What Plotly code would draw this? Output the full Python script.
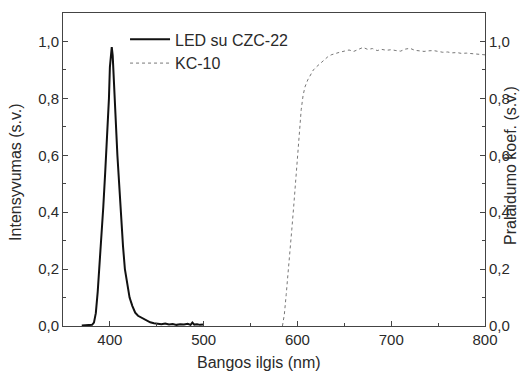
import plotly.graph_objects as go

# LED su CZC-22 emission spectrum
led_wl = [370, 375, 379, 381, 383, 385, 387, 389, 391, 393, 395, 397, 399, 400, 401, 402,
          403, 404, 405, 406, 407, 408, 410, 412, 414, 416, 418, 421, 424, 427, 430, 434,
          438, 443, 447, 451, 455, 459, 463, 467, 471, 475, 479, 483, 486, 488, 490, 493,
          496, 500]
led_val = [0.002, 0.003, 0.002, 0.004, 0.012, 0.045, 0.12, 0.21, 0.31, 0.42, 0.54, 0.66, 0.8,
           0.91, 0.96, 0.98, 0.95, 0.89, 0.81, 0.74, 0.67, 0.6, 0.48, 0.37, 0.28, 0.2, 0.155,
           0.1, 0.07, 0.047, 0.036, 0.028, 0.02, 0.013, 0.01, 0.008, 0.006, 0.009, 0.005,
           0.007, 0.004, 0.006, 0.005, 0.008, 0.004, 0.012, 0.005, 0.006, 0.004, 0.005]

# KC-10 transmission
kc_wl = [584, 586, 588, 590, 592, 594, 596, 598, 600, 602, 604, 606, 608, 611, 614, 617,
         620, 624, 628, 632, 636, 640, 645, 650, 655, 660, 665, 670, 675, 680, 685, 690,
         695, 700, 705, 710, 715, 720, 725, 730, 735, 740, 745, 750, 755, 760, 765, 770,
         775, 780, 785, 790, 795, 800]
kc_val = [0.0, 0.04, 0.11, 0.18, 0.26, 0.34, 0.42, 0.51, 0.6, 0.69, 0.76, 0.81, 0.84, 0.865,
          0.885, 0.9, 0.91, 0.922, 0.935, 0.945, 0.953, 0.958, 0.962, 0.966, 0.97, 0.965,
          0.972, 0.979, 0.972, 0.975, 0.968, 0.972, 0.969, 0.971, 0.968, 0.966, 0.973, 0.976,
          0.969, 0.967, 0.965, 0.967, 0.968, 0.965, 0.962, 0.963, 0.96, 0.961, 0.958, 0.959,
          0.957, 0.956, 0.955, 0.953]

x_ticks = [400, 500, 600, 700, 800]
y_ticks = [0.0, 0.2, 0.4, 0.6, 0.8, 1.0]
y_labels = ["0,0", "0,2", "0,4", "0,6", "0,8", "1,0"]

FONT = "Liberation Sans, Arial, sans-serif"
TXT = "#2a2a2a"
AX = "#444444"

fig = go.Figure()
fig.add_trace(go.Scatter(x=led_wl, y=led_val, mode="lines", name="LED su CZC-22",
                         line=dict(color="#111111", width=2)))
fig.add_trace(go.Scatter(x=kc_wl, y=kc_val, mode="lines", name="KC-10", yaxis="y2",
                         line=dict(color="#777777", width=1, dash="dot")))

axis_common = dict(showgrid=False, zeroline=False, showline=True, linecolor=AX, linewidth=1,
                   ticks="inside", ticklen=5, tickcolor=AX,
                   tickfont=dict(family=FONT, size=15, color=TXT))

fig.update_layout(
    width=527, height=374,
    margin=dict(l=63, r=42, t=13, b=48),
    paper_bgcolor="white", plot_bgcolor="white",
    font=dict(family=FONT, color=TXT),
    xaxis=dict(range=[350, 800], tickvals=x_ticks, mirror=True,
               minor=dict(ticks="inside", dtick=50, tick0=350, ticklen=3, tickcolor=AX),
               **axis_common),
    yaxis=dict(range=[0, 1.1], tickvals=y_ticks, ticktext=y_labels,
               minor=dict(ticks="inside", dtick=0.1, tick0=0, ticklen=3, tickcolor=AX),
               **axis_common),
    yaxis2=dict(range=[0, 1.1], tickvals=y_ticks, ticktext=y_labels, overlaying="y",
                side="right",
                minor=dict(ticks="inside", dtick=0.1, tick0=0, ticklen=3, tickcolor=AX),
                **axis_common),
    legend=dict(x=0.147, y=0.97, xanchor="left", yanchor="top", bgcolor="rgba(0,0,0,0)",
                itemwidth=40,
                font=dict(family=FONT, size=16, color=TXT), tracegroupgap=0),
    showlegend=True,
    annotations=[
        dict(text="Bangos ilgis (nm)", xref="paper", yref="paper", x=0.465, y=-0.118,
             showarrow=False, font=dict(family=FONT, size=16, color=TXT),
             xanchor="center", yanchor="middle"),
        dict(text="Intensyvumas (s.v.)", xref="paper", yref="paper", x=-0.114, y=0.492,
             showarrow=False, textangle=-90, font=dict(family=FONT, size=16, color=TXT),
             xanchor="center", yanchor="middle"),
        dict(text="Pralaidumo koef. (s.v.)", xref="paper", yref="paper", x=1.059, y=0.514,
             showarrow=False, textangle=-90, font=dict(family=FONT, size=16, color=TXT),
             xanchor="center", yanchor="middle"),
    ],
)

fig.write_html("out.html")
